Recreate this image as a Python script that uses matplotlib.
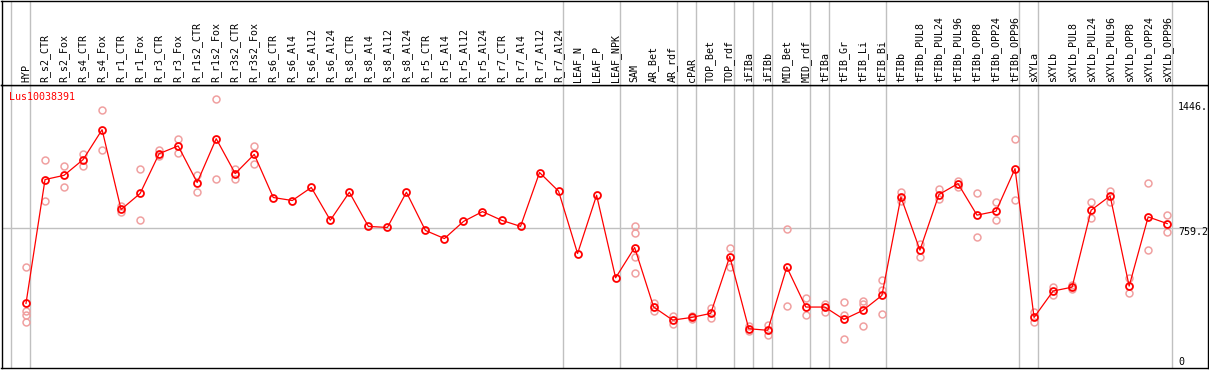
import numpy as np
import matplotlib
matplotlib.use("Agg")
import matplotlib.pyplot as plt
import matplotlib.transforms as mtransforms

gene = "Lus10038391"

labels = ["HYP", "R_s2_CTR", "R_s2_Fox", "R_s4_CTR", "R_s4_Fox", "R_r1_CTR", "R_r1_Fox",
          "R_r3_CTR", "R_r3_Fox", "R_r1s2_CTR", "R_r1s2_Fox", "R_r3s2_CTR", "R_r3s2_Fox",
          "R_s6_CTR", "R_s6_Al4", "R_s6_Al12", "R_s6_Al24", "R_s8_CTR", "R_s8_Al4",
          "R_s8_Al12", "R_s8_Al24", "R_r5_CTR", "R_r5_Al4", "R_r5_Al12", "R_r5_Al24",
          "R_r7_CTR", "R_r7_Al4", "R_r7_Al12", "R_r7_Al24", "LEAF_N", "LEAF_P", "LEAF_NPK",
          "SAM", "AR_Bet", "AR_rdf", "cPAR", "TOP_Bet", "TOP_rdf", "iFIBa", "iFIBb",
          "MID_Bet", "MID_rdf", "tFIBa", "tFIB_Gr", "tFIB_Li", "tFIB_Bi", "tFIBb",
          "tFIBb_PUL8", "tFIBb_PUL24", "tFIBb_PUL96", "tFIBb_OPP8", "tFIBb_OPP24",
          "tFIBb_OPP96", "sXYLa", "sXYLb", "sXYLb_PUL8", "sXYLb_PUL24", "sXYLb_PUL96",
          "sXYLb_OPP8", "sXYLb_OPP24", "sXYLb_OPP96"]

# mean expression per sample
mean_vals = [333, 1036, 1060, 1149, 1319, 866, 957, 1183, 1227, 1019, 1268, 1070, 1179,
             934, 917, 991, 805, 964, 770, 764, 964, 747, 701, 798, 854, 805, 770, 1076,
             970, 616, 947, 478,
             650, 312, 238, 253, 276, 599, 189, 180, 539, 312, 312, 242, 293, 378, 937,
             635, 951, 1013, 834, 856, 1098, 253, 403, 425, 862, 943, 431, 824, 786]

# replicate values (empty where only the mean is shown)
rep_vals = [[539, 291, 267, 225], [1149, 917], [1115, 996], [1179, 1115], [1433, 1206],
            [886, 851], [1098, 809], [1206, 1170], [1268, 1187], [1064, 966],
            [1495, 1041], [1098, 1038], [1225, 1124],
            [], [], [], [], [], [], [], [], [], [], [], [], [], [], [], [], [], [], [],
            [773, 730, 594, 503], [336, 291], [263, 217], [261, 242], [308, 248],
            [650, 540], [202, 176], [210, 153], [758, 318], [365, 267], [329, 285],
            [338, 267, 129], [346, 331, 204], [465, 408, 270], [966, 915],
            [669, 594], [981, 928], [1028, 994], [962, 707], [911, 805], [1268, 922],
            [285, 225], [424, 380], [435, 412], [909, 815], [971, 906], [475, 390],
            [1019, 635], [832, 739]]

group_ends = [0, 28, 31, 34, 35, 37, 38, 39, 41, 42, 45, 52, 53, 60]
y_ticks = [0, 759.2, 1446]
y_tick_text = ["0", "759.2", "1446."]

W, H = 1209, 370
fig = plt.figure(figsize=(W / 100, H / 100), dpi=100)

x0, x1 = 1.5, 1207.5
ax = fig.add_axes([x0 / W, (H - 368) / H, (x1 - x0) / W, (368 - 85) / H])
axt = fig.add_axes([x0 / W, (H - 85) / H, (x1 - x0) / W, 84.5 / H])

step = 19.02
xlim = ((x0 - 26) / step, (x1 - 26) / step)
for a in (ax, axt):
    a.set_xlim(*xlim)
    a.set_xticks([])
    a.set_yticks([])
    for s in a.spines.values():
        s.set_linewidth(1.0)
        s.set_color("black")

px = 759.2 / (362 - 228.3)
ax.set_ylim(-(368 - 362) * px, (362 - 85) * px)
axt.set_ylim(0, 1)

grid_x = [-15 / step] + [g + 4.3 / step for g in group_ends]
for a in (ax, axt):
    for gx in grid_x:
        a.axvline(gx, color="#c0c0c0", lw=1.0, zorder=0)
ax.axhline(759.2, color="#c0c0c0", lw=1.0, zorder=0)

xs = np.arange(len(labels))
for i, reps in enumerate(rep_vals):
    if reps:
        ax.plot([i] * len(reps), reps, linestyle="none", marker="o", ms=5,
                mfc="none", mec="#f0a0a0", mew=1.1, zorder=2)
ax.plot(xs, mean_vals, color="red", lw=0.9, marker="o", ms=5, mfc="none",
        mec="red", mew=1.3, zorder=3)

mono = "DejaVu Sans Mono"
for i, lab in enumerate(labels):
    axt.text(i, 3 / 85, lab, rotation=90, ha="center", va="bottom",
             fontsize=7.2, family=mono, color="black")

ax.text(8 / (x1 - x0), (368 - 97) / (368 - 85), gene, transform=ax.transAxes,
        ha="left", va="center", fontsize=7.2, family=mono, color="red")

trans = mtransforms.blended_transform_factory(ax.transAxes, ax.transData)
offsets = [0, -3, 0]
for v, t, off in zip(y_ticks, y_tick_text, offsets):
    ax.annotate(t, xy=((1178 - x0) / (x1 - x0), v), xycoords=trans,
                xytext=(0, off), textcoords="offset points",
                ha="left", va="center", fontsize=7.2, family=mono, color="black")

fig.savefig("out.png", dpi=100)
